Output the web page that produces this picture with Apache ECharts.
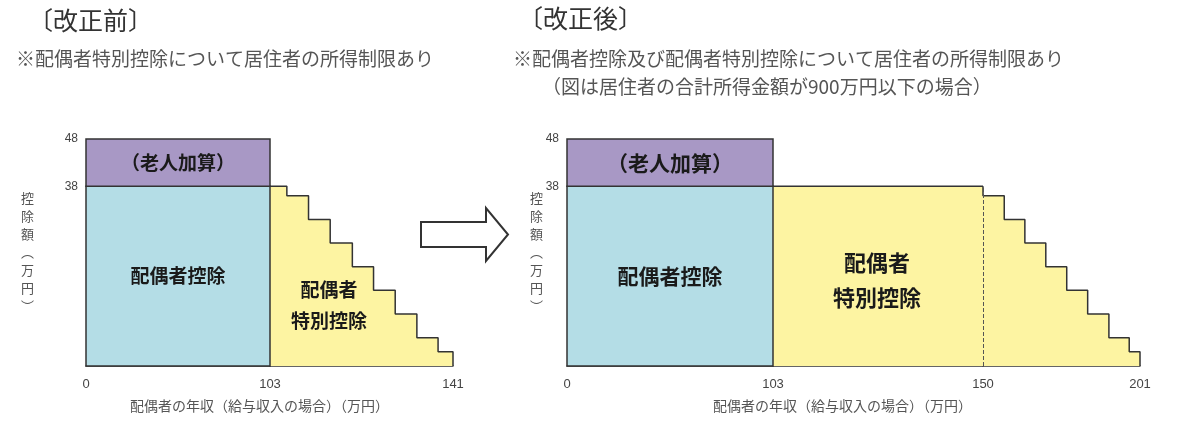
<!DOCTYPE html>
<html>
<head>
<meta charset="utf-8">
<script src="https://cdn.jsdelivr.net/npm/echarts@6/dist/echarts.min.js"></script>
<style>
  html, body { margin: 0; padding: 0; background: #fff; }
  #main { width: 1200px; height: 441px; }
</style>
</head>
<body>
<div id="main"></div>
<script>
// 配偶者控除 / 老人加算 (万円)
const spouseRange = [0, 103]
const spouseAmount = 38
const elderAmount = 48

// 配偶者特別控除 staircase: level i starts at stepX[i]
const stepLevels = [38, 36, 31, 26, 21, 16, 11, 6, 3, 0]
const beforeStepX = [103, 106.5, 111, 115.5, 120.1, 124.5, 129, 133.5, 137.9, 141]
const afterFlatX = [103, 150]
const afterStepX = [150, 150, 156.9, 163.6, 170.4, 177.2, 184, 190.9, 197.5, 201]

// tick labels
const yTicks = [38, 48]
const beforeTicks = [0, 103, 141]
const afterTicks = [0, 103, 150, 201]

const FONT = '"Noto Sans CJK JP", "Noto Sans", sans-serif'
const PURPLE = '#a898c5'
const BLUE = '#b4dde6'
const YELLOW = '#fdf4a2'
const EDGE = '#333'

const zip = (xs, ys) => xs.map((x, i) => [x, ys[i]])

// grid layout: [left, width]
const grids = [[86, 184], [270, 183], [567, 206], [773, 210], [983, 157]]
// x ranges per grid
const ranges = [
    [spouseRange[0], spouseRange[1]],
    [beforeStepX[0], beforeStepX[beforeStepX.length - 1]],
    [spouseRange[0], spouseRange[1]],
    [afterFlatX[0], afterFlatX[1]],
    [afterStepX[0], afterStepX[afterStepX.length - 1]]
]
const labelsFor = (i) => {
    const ticks = i < 2 ? beforeTicks : afterTicks
    const [lo, hi] = ranges[i]
    const first = i === 0 || i === 2
    return ticks.filter(t => (first ? t >= lo : t > lo) && t <= hi)
}

const rectSeries = (gi, fontSize) => ({
    type: 'custom',
    xAxisIndex: gi,
    yAxisIndex: gi,
    clip: false,
    encode: { x: [0, 1], y: [2, 3] },
    data: [
        { value: [spouseRange[0], spouseRange[1], 0, spouseAmount], name: '配偶者控除', itemStyle: { color: BLUE } },
        { value: [spouseRange[0], spouseRange[1], spouseAmount, elderAmount], name: '（老人加算）', itemStyle: { color: PURPLE } }
    ],
    renderItem: (params, api) => {
        const p0 = api.coord([api.value(0), api.value(3)])
        const p1 = api.coord([api.value(1), api.value(2)])
        return {
            type: 'rect',
            shape: { x: p0[0], y: p0[1], width: p1[0] - p0[0], height: p1[1] - p0[1] },
            style: { fill: api.visual('color'), stroke: EDGE, lineWidth: 1.5 },
            textContent: {
                type: 'text',
                style: {
                    text: params.dataIndex === 0 ? '配偶者控除' : '（老人加算）',
                    fontSize: fontSize, fontWeight: 'bold', fill: '#1a1a1a', fontFamily: FONT
                }
            },
            textConfig: { position: 'inside' }
        }
    }
})

const stairSeries = (gi, data, extra) => Object.assign({
    type: 'line',
    xAxisIndex: gi,
    yAxisIndex: gi,
    step: 'end',
    symbol: 'none',
    clip: false,
    silent: true,
    data: data,
    lineStyle: { color: EDGE, width: 1.5 },
    areaStyle: { color: YELLOW, opacity: 1, origin: 'start' },
    z: 1
}, extra || {})

const plainText = (text, left, top, style) => ({
    type: 'text', left: left, top: top, z: 100,
    style: Object.assign({ text: text, fontFamily: FONT, fill: '#333', fontSize: 14 }, style)
})

const centerText = (text, x, y, style) => ({
    type: 'text', x: x, y: y, z: 100,
    style: Object.assign({
        text: text, fontFamily: FONT, fill: '#1a1a1a', fontWeight: 'bold',
        align: 'center', verticalAlign: 'middle'
    }, style)
})

let Charts = echarts.init(document.getElementById('main'))
Charts.setOption({
    animation: false,
    grid: grids.map(([left, width]) => ({ left: left, width: width, top: 139, height: 227 })),
    xAxis: grids.map((g, i) => ({
        type: 'value',
        gridIndex: i,
        min: ranges[i][0],
        max: ranges[i][1],
        axisLine: { show: true, lineStyle: { color: EDGE, width: 1.5 } },
        axisTick: { show: false },
        splitLine: { show: false },
        axisLabel: {
            customValues: labelsFor(i),
            margin: 12,
            color: '#444',
            fontSize: 13,
            fontFamily: 'Liberation Sans, Arial, sans-serif'
        }
    })),
    yAxis: grids.map((g, i) => ({
        type: 'value',
        gridIndex: i,
        min: 0,
        max: elderAmount,
        axisLine: { show: false },
        axisTick: { show: false },
        splitLine: { show: false },
        axisLabel: {
            show: i === 0 || i === 2,
            customValues: yTicks,
            margin: 8,
            color: '#444',
            fontSize: 12,
            fontFamily: 'Liberation Sans, Arial, sans-serif'
        }
    })),
    series: [
        rectSeries(0, 19),
        stairSeries(1, zip(beforeStepX, stepLevels)),
        rectSeries(2, 21),
        stairSeries(3, zip(afterFlatX, [spouseAmount, spouseAmount])),
        stairSeries(4, zip(afterStepX, stepLevels), {
            markLine: {
                symbol: 'none',
                silent: true,
                label: { show: false },
                lineStyle: { type: 'dashed', color: '#555', width: 1 },
                data: [[{ coord: [afterStepX[0], 0] }, { coord: [afterStepX[0], spouseAmount] }]]
            }
        })
    ],
    graphic: [
        plainText('〔改正前〕', 28, 8, { fontSize: 25 }),
        plainText('※配偶者特別控除について居住者の所得制限あり', 16, 49, { fontSize: 19, fill: '#555' }),
        plainText('〔改正後〕', 518, 6, { fontSize: 25 }),
        plainText('※配偶者控除及び配偶者特別控除について居住者の所得制限あり', 513, 49, { fontSize: 19, fill: '#555' }),
        plainText('（図は居住者の合計所得金額が900万円以下の場合）', 542, 77, { fontSize: 19, fill: '#555' }),

        plainText('控\n除\n額\n︵\n万\n円\n︶', 21, 189, { fontSize: 13, lineHeight: 18, fill: '#555' }),
        plainText('控\n除\n額\n︵\n万\n円\n︶', 530, 189, { fontSize: 13, lineHeight: 18, fill: '#555' }),
        plainText('配偶者の年収（給与収入の場合）（万円）', 130, 399, { fontSize: 14, fill: '#555' }),
        plainText('配偶者の年収（給与収入の場合）（万円）', 713, 399, { fontSize: 14, fill: '#555' }),

        centerText('配偶者\n特別控除', 329, 305, { fontSize: 19, lineHeight: 31 }),
        centerText('配偶者\n特別控除', 877, 280, { fontSize: 22, lineHeight: 35 }),

        {
            type: 'polygon',
            z: 100,
            shape: { points: [[421, 222], [486, 222], [486, 208], [508, 234.5], [486, 261], [486, 247], [421, 247]] },
            style: { fill: '#fff', stroke: EDGE, lineWidth: 2 }
        }
    ]
})
</script>
</body>
</html>
